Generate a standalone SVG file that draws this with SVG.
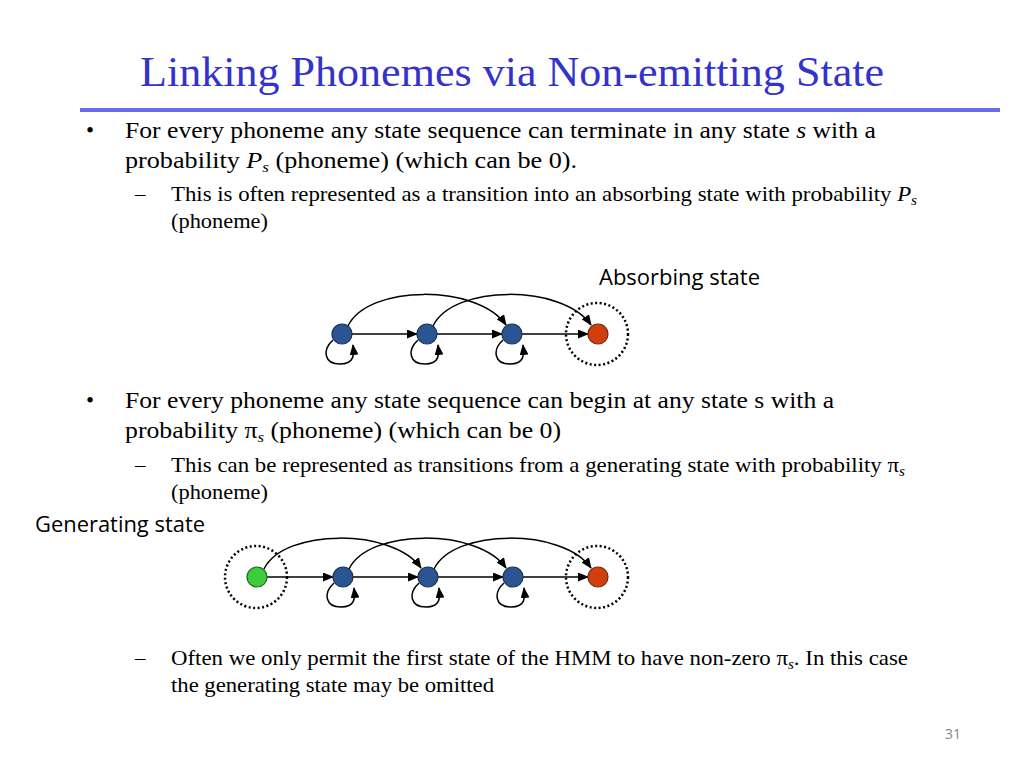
<svg xmlns="http://www.w3.org/2000/svg" width="1024" height="768" viewBox="0 0 1024 768">
<defs>
<style>
.title{font-family:"Liberation Serif",serif;font-size:42px;fill:#3333cc}
.b1{font-family:"Liberation Serif",serif;font-size:23px;fill:#000}
.b2{font-family:"Liberation Serif",serif;font-size:21px;fill:#000}
.lab{font-family:"Open Sans","Liberation Sans",sans-serif;font-size:21px;fill:#000}
.pg{font-family:"Open Sans","Liberation Sans",sans-serif;font-size:14px;fill:#888}
.node{fill:#2a5492;stroke:#1c3354;stroke-width:1.2}
.red{fill:#d0400c;stroke:#7a2a10;stroke-width:1.2}
.green{fill:#3ccc3c;stroke:#1f6a1f;stroke-width:1.2}
.dot{fill:none;stroke:#000;stroke-width:2.5;stroke-dasharray:2 2.5}
.e{fill:none;stroke:#000;stroke-width:1.5;marker-end:url(#ah)}
</style>
<marker id="ah" markerWidth="11" markerHeight="9" refX="10" refY="4.5" orient="auto" markerUnits="userSpaceOnUse">
<path d="M0,0 L11,4.5 L0,9 Z" fill="#000"/>
</marker>
</defs>
<rect width="1024" height="768" fill="#fff"/>
<text class="title" x="140" y="86" textLength="744" lengthAdjust="spacingAndGlyphs">Linking Phonemes via Non-emitting State</text>
<rect x="80" y="108" width="920" height="4" fill="#6a6af0"/>

<text class="b1" x="86" y="138">•</text>
<text class="b1" x="125" y="138" textLength="751" lengthAdjust="spacingAndGlyphs">For every phoneme any state sequence can terminate in any state <tspan font-style="italic">s</tspan> with a</text>
<text class="b1" x="125" y="168" textLength="452" lengthAdjust="spacingAndGlyphs">probability <tspan font-style="italic">P</tspan><tspan font-style="italic" font-size="15" dy="4">s</tspan><tspan dy="-4"> (phoneme) (which can be 0).</tspan></text>
<text class="b2" x="135" y="201">–</text>
<text class="b2" x="171" y="201" textLength="746" lengthAdjust="spacingAndGlyphs">This is often represented as a transition into an absorbing state with probability <tspan font-style="italic">P</tspan><tspan font-style="italic" font-size="14" dy="4">s</tspan></text>
<text class="b2" x="171" y="228" textLength="97" lengthAdjust="spacingAndGlyphs">(phoneme)</text>

<text class="lab" x="599" y="285" textLength="161" lengthAdjust="spacingAndGlyphs">Absorbing state</text>

<g id="top-diagram">
<g id="t-absorb-ring"><circle class="dot" cx="597" cy="334" r="31"/></g>
<g id="connectors-top">
<line class="e" x1="352" y1="334" x2="417" y2="334"/>
<line class="e" x1="437" y1="334" x2="502" y2="334"/>
<line class="e" x1="522" y1="334" x2="588" y2="334"/>
<path class="e" d="M348,326 C368,284 478,284 506,325"/>
<path class="e" d="M433,326 C453,284 563,284 591,325"/>
<path class="e" d="M333,340 C322,350 324,364 340,364 C355,364 354,354 353,345"/>
<path class="e" d="M418,340 C407,350 409,364 425,364 C440,364 439,354 438,345"/>
<path class="e" d="M503,340 C492,350 494,364 510,364 C525,364 524,354 523,345"/>
</g>
<g id="t-s1"><circle class="node" cx="342" cy="334" r="10"/></g>
<g id="t-s2"><circle class="node" cx="427" cy="334" r="10"/></g>
<g id="t-s3"><circle class="node" cx="512" cy="334" r="10"/></g>
<g id="t-absorb"><circle class="red" cx="598" cy="334" r="10"/></g>
</g>

<text class="b1" x="86" y="408">•</text>
<text class="b1" x="125" y="408" textLength="709" lengthAdjust="spacingAndGlyphs">For every phoneme any state sequence can begin at any state s with a</text>
<text class="b1" x="125" y="438" textLength="436" lengthAdjust="spacingAndGlyphs">probability π<tspan font-style="italic" font-size="15" dy="4">s</tspan><tspan dy="-4"> (phoneme) (which can be 0)</tspan></text>
<text class="b2" x="135" y="472">–</text>
<text class="b2" x="171" y="472" textLength="734" lengthAdjust="spacingAndGlyphs">This can be represented as transitions from a generating state with probability π<tspan font-style="italic" font-size="14" dy="4">s</tspan></text>
<text class="b2" x="171" y="499" textLength="97" lengthAdjust="spacingAndGlyphs">(phoneme)</text>

<text class="lab" x="35" y="532" textLength="170" lengthAdjust="spacingAndGlyphs">Generating state</text>

<g id="bottom-diagram">
<g id="b-gen-ring"><circle class="dot" cx="256" cy="577" r="31"/></g>
<g id="b-absorb-ring"><circle class="dot" cx="597" cy="577" r="31"/></g>
<g id="connectors-bottom">
<line class="e" x1="267" y1="577" x2="333" y2="577"/>
<line class="e" x1="353" y1="577" x2="418" y2="577"/>
<line class="e" x1="438" y1="577" x2="503" y2="577"/>
<line class="e" x1="523" y1="577" x2="588" y2="577"/>
<path class="e" d="M264,569 C284,528 393,528 421,568"/>
<path class="e" d="M349,569 C369,528 478,528 506,568"/>
<path class="e" d="M434,569 C454,528 563,528 591,568"/>
<path class="e" d="M334,583 C323,593 325,607 341,607 C356,607 355,597 354,588"/>
<path class="e" d="M419,583 C408,593 410,607 426,607 C441,607 440,597 439,588"/>
<path class="e" d="M504,583 C493,593 495,607 511,607 C526,607 525,597 524,588"/>
</g>
<g id="b-gen"><circle class="green" cx="257" cy="577" r="10"/></g>
<g id="b-s1"><circle class="node" cx="343" cy="577" r="10"/></g>
<g id="b-s2"><circle class="node" cx="428" cy="577" r="10"/></g>
<g id="b-s3"><circle class="node" cx="513" cy="577" r="10"/></g>
<g id="b-absorb"><circle class="red" cx="598" cy="577" r="10"/></g>
</g>

<text class="b2" x="135" y="665">–</text>
<text class="b2" x="171" y="665" textLength="737" lengthAdjust="spacingAndGlyphs">Often we only permit the first state of the HMM to have non-zero π<tspan font-style="italic" font-size="14" dy="4">s</tspan><tspan dy="-4">. In this case</tspan></text>
<text class="b2" x="171" y="692" textLength="323" lengthAdjust="spacingAndGlyphs">the generating state may be omitted</text>

<text class="pg" x="945" y="739">31</text>
</svg>
